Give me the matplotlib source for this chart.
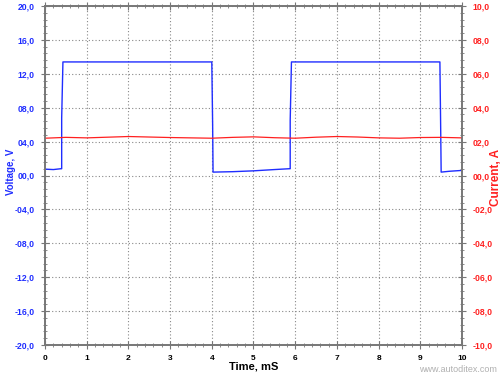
import matplotlib
matplotlib.use('Agg')
import matplotlib.pyplot as plt
from matplotlib.ticker import MultipleLocator, FuncFormatter

plt.rcParams['font.family'] = ['Liberation Sans', 'DejaVu Sans']

# Voltage trace (step waveform), time in mS
volt_t = [0.0, 0.2, 0.38, 0.40, 0.40, 0.43, 1.5, 3.0, 4.00, 4.02, 4.03, 4.5, 5.0, 5.5, 5.86, 5.88, 5.88, 5.91,
          7.0, 8.5, 9.47, 9.49, 9.50, 9.7, 10.0]
volt_v = [0.75, 0.7, 0.8, 0.8, 6.8, 13.4, 13.4, 13.4, 13.4, 6.0, 0.4, 0.45, 0.55, 0.7, 0.8, 0.8, 6.5, 13.4,
          13.4, 13.4, 13.4, 5.0, 0.4, 0.5, 0.6]

# Current trace, roughly flat
curr_t = [0.0, 0.5, 1.0, 1.5, 2.0, 2.5, 3.0, 3.5, 4.0, 4.5, 5.0, 5.5, 6.0, 6.5, 7.0, 7.5, 8.0, 8.5, 9.0, 9.5, 10.0]
curr_a = [2.2, 2.25, 2.22, 2.26, 2.3, 2.27, 2.24, 2.22, 2.2, 2.25, 2.28, 2.23, 2.2, 2.26, 2.3, 2.27, 2.22, 2.2,
          2.24, 2.25, 2.22]

BLUE = '#1f2dff'
RED = '#ff2020'


def fmt(v, pos):
    s = '-' if v < -1e-9 else ''
    return s + ('%04.1f' % abs(v)).replace('.', ',')


fig = plt.figure(figsize=(5, 3.75), dpi=100)
ax1 = fig.add_axes([0.09, 0.08, 0.834, 0.904])
ax2 = ax1.twinx()

ax1.plot(volt_t, volt_v, color=BLUE, lw=1.0)
ax2.plot(curr_t, curr_a, color=RED, lw=0.9)

ax1.set_xlim(0, 10)
ax1.set_ylim(-20, 20)
ax2.set_ylim(-10, 10)

ax1.xaxis.set_major_locator(MultipleLocator(1))
ax1.xaxis.set_minor_locator(MultipleLocator(0.2))
ax1.yaxis.set_major_locator(MultipleLocator(4))
ax1.yaxis.set_minor_locator(MultipleLocator(0.8))
ax2.yaxis.set_major_locator(MultipleLocator(2))
ax2.yaxis.set_minor_locator(MultipleLocator(0.4))
ax1.yaxis.set_major_formatter(FuncFormatter(fmt))
ax2.yaxis.set_major_formatter(FuncFormatter(fmt))

ax1.grid(True, which='major', color='#888888', ls=(0, (1, 2)), lw=0.8)

for ax in (ax1, ax2):
    for sp in ax.spines.values():
        sp.set_color('#777777')
        sp.set_linewidth(1.2)
ax1.tick_params(axis='x', which='major', direction='inout', length=6, color='#777777',
                labelsize=6, pad=4, top=True)
ax1.tick_params(axis='x', which='minor', direction='inout', length=3, color='#777777', top=True)
ax1.tick_params(axis='y', which='major', direction='inout', length=6, color='#777777',
                labelsize=6.2, pad=4.5, labelcolor=BLUE)
ax1.tick_params(axis='y', which='minor', direction='inout', length=3, color='#777777')
ax2.tick_params(axis='y', which='major', direction='inout', length=6, color='#777777',
                labelsize=6.2, pad=4.5, labelcolor=RED)
ax2.tick_params(axis='y', which='minor', direction='inout', length=3, color='#777777')
for lab in ax1.get_xticklabels() + ax1.get_yticklabels() + ax2.get_yticklabels():
    lab.set_fontweight('bold')

ax1.set_ylabel('Voltage, V', color=BLUE, fontsize=7, fontweight='bold')
ax2.set_ylabel('Current, A', color=RED, fontsize=8.5, fontweight='bold')
ax1.set_xlabel('Time, mS', fontsize=8, fontweight='bold')
ax1.yaxis.set_label_coords(-0.07, 0.51)
ax2.yaxis.set_label_coords(1.066, 0.495)
ax1.xaxis.set_label_coords(0.5, -0.05)

fig.text(0.994, 0.016, 'www.autoditex.com', color='#b0b0b0', fontsize=6.5, ha='right', va='center')

fig.savefig('out.png', dpi=100)
